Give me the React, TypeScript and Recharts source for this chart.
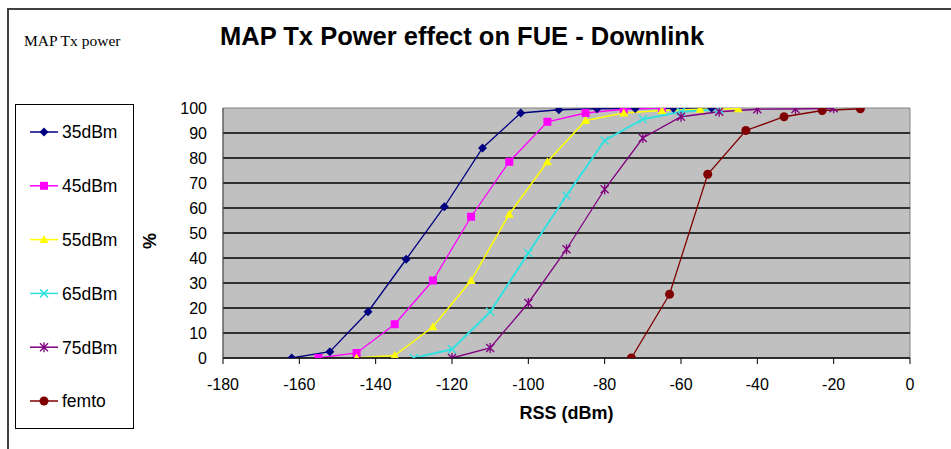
import React from "react";
import {
  Legend,
  Line,
  LineChart,
  ReferenceArea,
  ReferenceLine,
  XAxis,
  YAxis,
} from "recharts";

// values: RSS (dBm) -> % of FUE
const rss35 = [-162, -152, -142, -132, -122, -112, -102, -92, -82, -72, -62, -52];
const pct35 = [0, 2.5, 18.5, 39.5, 60.5, 84, 98, 99.3, 99.7, 99.8, 99.9, 100];

const rss45 = [-155, -145, -135, -125, -115, -105, -95, -85, -75, -65];
const pct45 = [0, 2, 13.5, 31, 56.5, 78.5, 94.5, 98, 99.5, 100];

const rss55 = [-145, -135, -125, -115, -105, -95, -85, -75, -65, -55, -45];
const pct55 = [0, 1, 12.5, 31, 57.5, 78.5, 95, 98, 99, 99.5, 99.7];

const rss65 = [-130, -120, -110, -100, -90, -80, -70, -60, -50];
const pct65 = [0, 3.5, 18.5, 42, 65, 87, 95.5, 98.5, 99.5];

const rss75 = [-120, -110, -100, -90, -80, -70, -60, -50, -40, -30, -20];
const pct75 = [0, 4, 22, 43.5, 67.5, 88, 96.5, 98.5, 99.5, 99.6, 99.9];

const rssFemto = [-73, -63, -53, -43, -33, -23, -13];
const pctFemto = [0, 25.5, 73.5, 91, 96.5, 99, 99.7];

const xTicks = [-180, -160, -140, -120, -100, -80, -60, -40, -20, 0];
const yTicks = [0, 10, 20, 30, 40, 50, 60, 70, 80, 90, 100];
const gridLines = [10, 20, 30, 40, 50, 60, 70, 80, 90];

const toPoints = (xs: number[], ys: number[]) =>
  xs.map((x, i) => ({ rss: x, pct: ys[i] }));

type Shape = "diamond" | "square" | "triangle" | "cross" | "star" | "circle";

const SERIES: { name: string; color: string; shape: Shape; width: number; data: { rss: number; pct: number }[] }[] = [
  { name: "35dBm", color: "#000080", shape: "diamond", width: 1.3, data: toPoints(rss35, pct35) },
  { name: "45dBm", color: "#ff00ff", shape: "square", width: 1.3, data: toPoints(rss45, pct45) },
  { name: "55dBm", color: "#ffff00", shape: "triangle", width: 1.5, data: toPoints(rss55, pct55) },
  { name: "65dBm", color: "#33e0e0", shape: "cross", width: 2, data: toPoints(rss65, pct65) },
  { name: "75dBm", color: "#800080", shape: "star", width: 1.3, data: toPoints(rss75, pct75) },
  { name: "femto", color: "#800000", shape: "circle", width: 1.3, data: toPoints(rssFemto, pctFemto) },
];

const SANS = "'Liberation Sans', Arial, sans-serif";
const SERIF = "'Liberation Serif', 'Times New Roman', serif";

function Marker({ shape, cx, cy, color }: { shape: Shape; cx: number; cy: number; color: string }) {
  switch (shape) {
    case "diamond":
      return <polygon points={`${cx},${cy - 4.5} ${cx + 4.5},${cy} ${cx},${cy + 4.5} ${cx - 4.5},${cy}`} fill={color} />;
    case "square":
      return <rect x={cx - 4} y={cy - 4} width={8} height={8} fill={color} />;
    case "triangle":
      return <polygon points={`${cx},${cy - 4.5} ${cx + 4.5},${cy + 3.5} ${cx - 4.5},${cy + 3.5}`} fill={color} />;
    case "cross":
      return (
        <path d={`M${cx - 4},${cy - 4}L${cx + 4},${cy + 4}M${cx - 4},${cy + 4}L${cx + 4},${cy - 4}`} stroke={color} strokeWidth={1.5} />
      );
    case "star":
      return (
        <path
          d={`M${cx - 4},${cy - 4}L${cx + 4},${cy + 4}M${cx - 4},${cy + 4}L${cx + 4},${cy - 4}M${cx},${cy - 5}L${cx},${cy + 5}`}
          stroke={color}
          strokeWidth={1.3}
        />
      );
    default:
      return <circle cx={cx} cy={cy} r={4.5} fill={color} />;
  }
}

function LegendBox() {
  return (
    <svg width={119} height={325} style={{ display: "block" }}>
      <rect x={0.5} y={0.5} width={118} height={324} fill="#fff" stroke="#000" />
      {SERIES.map((s, i) => {
        const cy = 28 + i * 53.8;
        return (
          <g key={s.name}>
            <line x1={15} x2={43} y1={cy} y2={cy} stroke={s.color} strokeWidth={1.5} />
            <Marker shape={s.shape} cx={29} cy={cy} color={s.color} />
            <text x={47} y={cy} dy="0.36em" fontSize={17.5} fontFamily={SANS} fill="#000">
              {s.name}
            </text>
          </g>
        );
      })}
    </svg>
  );
}

export default function App() {
  return (
    <div
      style={{
        position: "absolute",
        left: 0,
        top: 0,
        width: 951,
        height: 449,
        background: "#fff",
        overflow: "hidden",
      }}
    >
      {/* outer frame: top and left edges only */}
      <div
        style={{
          position: "absolute",
          left: 7,
          top: 8,
          width: 960,
          height: 460,
          borderLeft: "2px solid #404040",
          borderTop: "2px solid #404040",
        }}
      />
      <div
        style={{
          position: "absolute",
          left: 220,
          top: 22,
          fontFamily: SANS,
          fontWeight: "bold",
          fontSize: 25.5,
          whiteSpace: "nowrap",
          color: "#000",
        }}
      >
        MAP Tx Power effect on FUE - Downlink
      </div>
      <div
        style={{
          position: "absolute",
          left: 24,
          top: 32,
          fontFamily: SERIF,
          fontSize: 15.5,
          whiteSpace: "nowrap",
          color: "#000",
        }}
      >
        MAP Tx power
      </div>
      <LineChart
        width={951}
        height={449}
        margin={{ top: 108, right: 41, left: 163, bottom: 61 }}
        style={{ position: "absolute", left: 0, top: 0 }}
      >
        <XAxis
          type="number"
          dataKey="rss"
          domain={[-180, 0]}
          ticks={xTicks}
          allowDataOverflow
          height={30}
          axisLine={{ stroke: "#000", strokeWidth: 1.5 }}
          tickLine={{ stroke: "#000" }}
          tickSize={6}
          tickMargin={15}
          tick={{ fill: "#000", fontSize: 16, fontFamily: SANS }}
          label={{
            value: "RSS (dBm)",
            position: "bottom",
            offset: 18,
            fill: "#000",
            fontSize: 18,
            fontWeight: "bold",
            fontFamily: SANS,
          }}
        />
        <YAxis
          type="number"
          dataKey="pct"
          domain={[0, 100]}
          ticks={yTicks}
          allowDataOverflow
          width={60}
          axisLine={{ stroke: "#505050" }}
          tickLine={false}
          tickSize={0}
          tickMargin={16}
          tick={{ fill: "#000", fontSize: 16, fontFamily: SANS }}
          label={{
            value: "%",
            angle: -90,
            position: "left",
            offset: 13,
            fill: "#000",
            fontSize: 18,
            fontWeight: "bold",
            fontFamily: SANS,
          }}
        />
        <ReferenceArea
          x1={-180}
          x2={0}
          y1={0}
          y2={100}
          fill="#c0c0c0"
          fillOpacity={1}
          stroke="#808080"
          ifOverflow="extendDomain"
        />
        {gridLines.map((v) => (
          <ReferenceLine key={v} y={v} stroke="#000" strokeWidth={1.5} />
        ))}
        <Legend
          layout="vertical"
          align="center"
          verticalAlign="middle"
          content={<LegendBox />}
          wrapperStyle={{ left: 15, top: 104, width: 119, height: 325 }}
        />
        {SERIES.map((s) => (
          <Line
            key={s.name}
            data={s.data}
            dataKey="pct"
            name={s.name}
            type="linear"
            stroke={s.color}
            strokeWidth={s.width}
            isAnimationActive={false}
            dot={(p: any) => (
              <g key={`${s.name}-${p.index}`}>
                <Marker shape={s.shape} cx={p.cx} cy={p.cy} color={s.color} />
              </g>
            )}
            activeDot={false}
          />
        ))}
      </LineChart>
    </div>
  );
}
